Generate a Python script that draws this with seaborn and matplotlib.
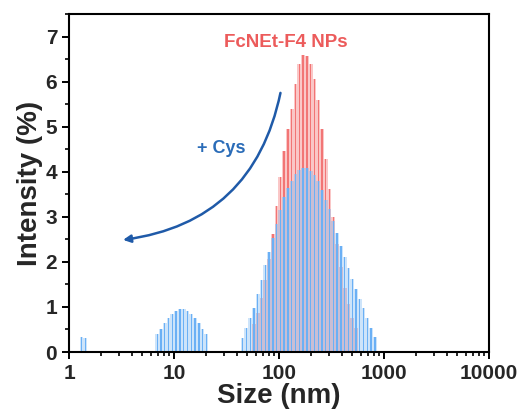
import numpy as np
import pandas as pd
import matplotlib
matplotlib.use("Agg")
import matplotlib.pyplot as plt
import seaborn as sns
from matplotlib.ticker import MultipleLocator, LogLocator, NullFormatter, FixedLocator, FixedFormatter

# Hydrodynamic size bins (nm) for the three populations
sizes_small = [1.32, 1.43]
sizes_mid = [6.92, 7.52, 8.17, 8.87, 9.64, 10.47, 11.38, 12.36, 13.43, 14.59,
             15.85, 17.22, 18.71, 20.32]
sizes_main = [45.0, 48.9, 53.1, 57.7, 62.7, 68.1, 74.0, 80.4, 87.3, 94.8,
              103.0, 111.9, 121.6, 132.1, 143.5, 156.0, 169.4, 184.1, 200.0, 217.3,
              236.0, 256.4, 278.6, 302.7, 328.9, 357.3, 388.2, 421.7, 458.1, 497.7,
              540.8, 587.5, 638.3, 693.4, 753.4, 818.5]

# Intensity (%) after adding Cys
cys_small = [0.33, 0.30]
cys_mid = [0.39, 0.52, 0.64, 0.76, 0.85, 0.91, 0.95, 0.95, 0.91, 0.85, 0.76, 0.64, 0.52, 0.39]
cys_main = [0.30, 0.53, 0.75, 0.98, 1.29, 1.60, 1.92, 2.23, 2.54, 2.85,
            3.16, 3.44, 3.63, 3.80, 3.96, 4.04, 4.09, 4.08, 4.02, 3.93,
            3.80, 3.59, 3.38, 3.18, 2.91, 2.63, 2.36, 2.11, 1.87, 1.62,
            1.39, 1.18, 0.97, 0.76, 0.54, 0.33]

# Intensity (%) of the FcNEt-F4 nanoparticles
nps_main = [0.0, 0.0, 0.0, 0.62, 0.87, 1.19, 1.59, 2.07, 2.62, 3.23,
            3.88, 4.45, 4.95, 5.40, 5.95, 6.40, 6.59, 6.56, 6.38, 6.05,
            5.60, 4.95, 4.28, 3.62, 2.99, 2.40, 1.88, 1.43, 1.06, 0.76,
            0.54, 0.0, 0.0, 0.0, 0.0, 0.0]

x_ticks = [1, 10, 100, 1000, 10000]
x_tick_labels = ["1", "10", "100", "1000", "10000"]


def group_edges(sizes):
    l = np.log10(sizes)
    mids = (l[1:] + l[:-1]) / 2
    return np.concatenate([[l[0] - (l[1] - l[0]) / 2], mids, [l[-1] + (l[-1] - l[-2]) / 2]])


edges = list(np.concatenate([group_edges(sizes_small), group_edges(sizes_mid),
                             group_edges(sizes_main)]))

df_cys = pd.DataFrame({"size": sizes_small + sizes_mid + sizes_main,
                       "intensity": cys_small + cys_mid + cys_main})
df_nps = pd.DataFrame({"size": sizes_main, "intensity": nps_main})

sns.set_theme(style="ticks")
plt.rcParams["font.family"] = ["Liberation Sans", "DejaVu Sans"]
plt.rcParams["font.weight"] = "bold"
plt.rcParams["axes.labelweight"] = "bold"

fig = plt.figure(figsize=(5.2, 4.12), dpi=100)
ax = fig.add_axes([0.1327, 0.1456, 0.8077, 0.8204])

hist_kw = dict(x="size", weights="intensity", bins=edges, log_scale=True,
               element="bars", ax=ax, linewidth=0, edgecolor="none")

# nanoparticles (red): pale full-width bins with a darker core line
sns.histplot(data=df_nps, facecolor=(0.98, 0.78, 0.78, 1.0), shrink=1, **hist_kw)
sns.histplot(data=df_nps, facecolor=(0.95, 0.46, 0.46, 1.0), shrink=0.36, **hist_kw)
# after Cys (blue) on top, translucent fill so the red shows through
sns.histplot(data=df_cys, facecolor=(0.40, 0.67, 0.94, 0.32), shrink=1, **hist_kw)
sns.histplot(data=df_cys, facecolor=(0.42, 0.69, 0.96, 1.0), shrink=0.36, **hist_kw)

ax.set_xlim(1, 10000)
ax.set_ylim(0, 7.5)

ax.xaxis.set_major_locator(FixedLocator(x_ticks))
ax.xaxis.set_major_formatter(FixedFormatter(x_tick_labels))
ax.xaxis.set_minor_locator(LogLocator(base=10, subs=np.arange(2, 10)))
ax.xaxis.set_minor_formatter(NullFormatter())
ax.yaxis.set_major_locator(MultipleLocator(1))
ax.yaxis.set_minor_locator(MultipleLocator(0.5))

ax.tick_params(which="major", direction="out", length=5, width=1.4, labelsize=15, color="black")
ax.tick_params(which="minor", direction="out", length=3, width=1.2, color="black")
for lab in ax.get_xticklabels() + ax.get_yticklabels():
    lab.set_fontweight("bold")
for sp in ax.spines.values():
    sp.set_visible(True)
    sp.set_linewidth(1.5)
    sp.set_color("black")

ax.set_xlabel("Size (nm)", fontsize=20, fontweight="bold", labelpad=0)
ax.set_ylabel("Intensity (%)", fontsize=20, fontweight="bold", labelpad=2)

ax.text(116.7, 6.87, "FcNEt-F4 NPs", color="#ec5b5b", fontsize=13.5, fontweight="bold",
        ha="center", va="center")
ax.text(27.9, 4.52, "+ Cys", color="#2a6cb8", fontsize=13, fontweight="bold",
        ha="center", va="center")
ax.annotate("", xy=(3.08, 2.48), xytext=(104.5, 5.81),
            arrowprops=dict(arrowstyle="-|>", connectionstyle="arc3,rad=-0.36",
                            color="#1f5aa8", lw=1.8, mutation_scale=11))

fig.savefig("out.png", dpi=100)
